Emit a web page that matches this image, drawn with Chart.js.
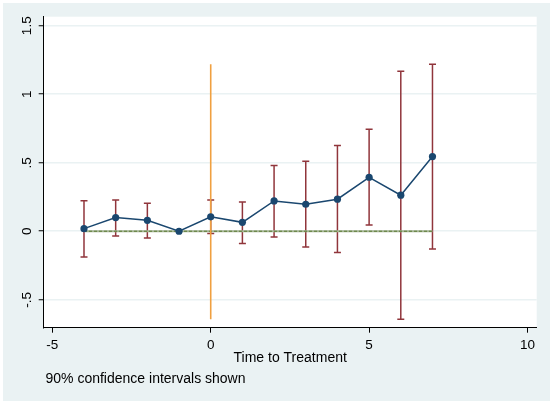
<!DOCTYPE html>
<html>
<head>
<meta charset="utf-8">
<script src="https://cdn.jsdelivr.net/npm/chart.js@4/dist/chart.umd.min.js"></script>
<style>
  html, body { margin: 0; padding: 0; background: #ffffff; }
  #c { display: block; }
</style>
</head>
<body>
<canvas id="c" width="550" height="401"></canvas>
<script>
// ---- data ----
const periods = [-4, -3, -2, -1, 0, 1, 2, 3, 4, 5, 6, 7];
const coef    = [0.019, 0.100, 0.080, 0.000, 0.105, 0.065, 0.221, 0.197, 0.234, 0.394, 0.263, 0.545];
const ciLow   = [-0.188, -0.034, -0.049, null, -0.017, -0.090, -0.042, -0.115, -0.156, 0.046, -0.642, -0.129];
const ciHigh  = [0.223, 0.228, 0.204, null, 0.228, 0.214, 0.479, 0.511, 0.625, 0.745, 1.168, 1.219];
const treatX  = [0, 0];
const treatY  = [-0.642, 1.219];
const zeroX   = [-4, 7];
const zeroY   = [0, 0];
const xTicks  = [-5, 0, 5, 10];
const yTicks  = [-0.5, 0, 0.5, 1, 1.5];
const xTitle  = 'Time to Treatment';
const noteText = '90% confidence intervals shown';

const FONT = "'Liberation Sans', Arial, Helvetica, sans-serif";
const NAVY = '#1a476f';
const CRAN = '#90353b';
const ORANGE = '#f0a040';
const BG = '#eaf2f3';

function fmt(v) {
  if (v === 0) return '0';
  const a = Math.abs(v);
  let s = String(a);
  if (a < 1) s = s.replace(/^0/, '');
  return (v < 0 ? '-' : '') + s;
}

const bgPlugin = {
  id: 'bg',
  beforeDraw(chart) {
    const { ctx, chartArea: a } = chart;
    ctx.save();
    ctx.fillStyle = '#ffffff';
    ctx.fillRect(0, 0, chart.width, chart.height);
    ctx.fillStyle = BG;
    ctx.fillRect(3, 3, chart.width - 3, chart.height - 3);
    ctx.fillStyle = '#ffffff';
    ctx.fillRect(a.left, a.top, a.right - a.left, a.bottom - a.top);
    ctx.restore();
  }
};

const ciPlugin = {
  id: 'ci',
  beforeDatasetsDraw(chart) {
    const { ctx, scales: { x, y }, chartArea: a } = chart;
    ctx.save();
    ctx.beginPath();
    ctx.rect(a.left, a.top, a.right - a.left, a.bottom - a.top);
    ctx.clip();
    ctx.strokeStyle = CRAN;
    ctx.lineWidth = 1.5;
    for (let i = 0; i < periods.length; i++) {
      if (ciLow[i] === null || ciHigh[i] === null) continue;
      const px = x.getPixelForValue(periods[i]);
      const pl = y.getPixelForValue(ciLow[i]);
      const ph = y.getPixelForValue(ciHigh[i]);
      ctx.beginPath();
      ctx.moveTo(px, pl); ctx.lineTo(px, ph);
      ctx.moveTo(px - 3.5, pl); ctx.lineTo(px + 3.5, pl);
      ctx.moveTo(px - 3.5, ph); ctx.lineTo(px + 3.5, ph);
      ctx.stroke();
    }
    ctx.restore();
  }
};

const notePlugin = {
  id: 'note',
  afterDraw(chart) {
    const { ctx } = chart;
    ctx.save();
    ctx.font = '14px ' + FONT;
    ctx.fillStyle = '#000000';
    ctx.textAlign = 'left';
    ctx.textBaseline = 'alphabetic';
    ctx.fillText(noteText, 45.5, 382.5);
    ctx.restore();
  }
};

new Chart(document.getElementById('c'), {
  type: 'line',
  data: {
    datasets: [
      {
        label: 'Estimate',
        data: periods.map((p, i) => ({ x: p, y: coef[i] })),
        borderColor: NAVY,
        backgroundColor: NAVY,
        borderWidth: 1.5,
        pointRadius: 3.6,
        pointBorderWidth: 0,
        pointBackgroundColor: NAVY,
        tension: 0
      },
      {
        label: 'Treatment',
        data: treatX.map((v, i) => ({ x: v, y: treatY[i] })),
        borderColor: ORANGE,
        borderWidth: 1.6,
        pointRadius: 0
      },
      {
        label: 'Zero dash',
        data: zeroX.map((v, i) => ({ x: v, y: zeroY[i] })),
        borderColor: '#5b7a34',
        borderWidth: 1,
        borderDash: [3, 2],
        pointRadius: 0
      },
      {
        label: 'Zero',
        data: zeroX.map((v, i) => ({ x: v, y: zeroY[i] })),
        borderColor: '#a3b392',
        borderWidth: 2,
        pointRadius: 0
      }
    ]
  },
  options: {
    responsive: false,
    devicePixelRatio: 1,
    animation: false,
    events: [],
    layout: { padding: { left: 3, top: 16.7, right: 13.3, bottom: 0 } },
    plugins: {
      legend: { display: false },
      tooltip: { enabled: false },
      title: { display: false }
    },
    scales: {
      x: {
        type: 'linear',
        position: 'bottom',
        min: -5.272,
        max: 10.29,
        afterBuildTicks(s) { s.ticks = xTicks.map(v => ({ value: v })); },
        afterFit(s) { s.height = 73.3; },
        grid: { display: true, drawOnChartArea: false, drawTicks: true, tickLength: 5, tickColor: '#000000', tickWidth: 1 },
        border: { display: true, color: '#000000', width: 1 },
        ticks: {
          autoSkip: false,
          maxRotation: 0,
          minRotation: 0,
          padding: 4.7,
          color: '#000000',
          font: { family: FONT, size: 13.5 },
          callback: v => fmt(v)
        },
        title: {
          display: true,
          text: xTitle,
          color: '#000000',
          font: { family: FONT, size: 14 },
          padding: { top: 0, bottom: 34.9 }
        }
      },
      y: {
        type: 'linear',
        position: 'left',
        min: -0.704,
        max: 1.566,
        afterBuildTicks(s) { s.ticks = yTicks.map(v => ({ value: v })); },
        afterFit(s) { s.width = 40.7; },
        grid: { display: true, drawOnChartArea: true, color: BG, lineWidth: 1.5, drawTicks: true, tickLength: 5, tickColor: '#000000', tickWidth: 1 },
        border: { display: true, color: '#000000', width: 1 },
        ticks: {
          autoSkip: false,
          minRotation: 90,
          maxRotation: 90,
          crossAlign: 'center',
          padding: 2.3,
          color: '#000000',
          font: { family: FONT, size: 13.5 },
          callback: v => fmt(v)
        }
      }
    }
  },
  plugins: [bgPlugin, ciPlugin, notePlugin]
});
</script>
</body>
</html>
